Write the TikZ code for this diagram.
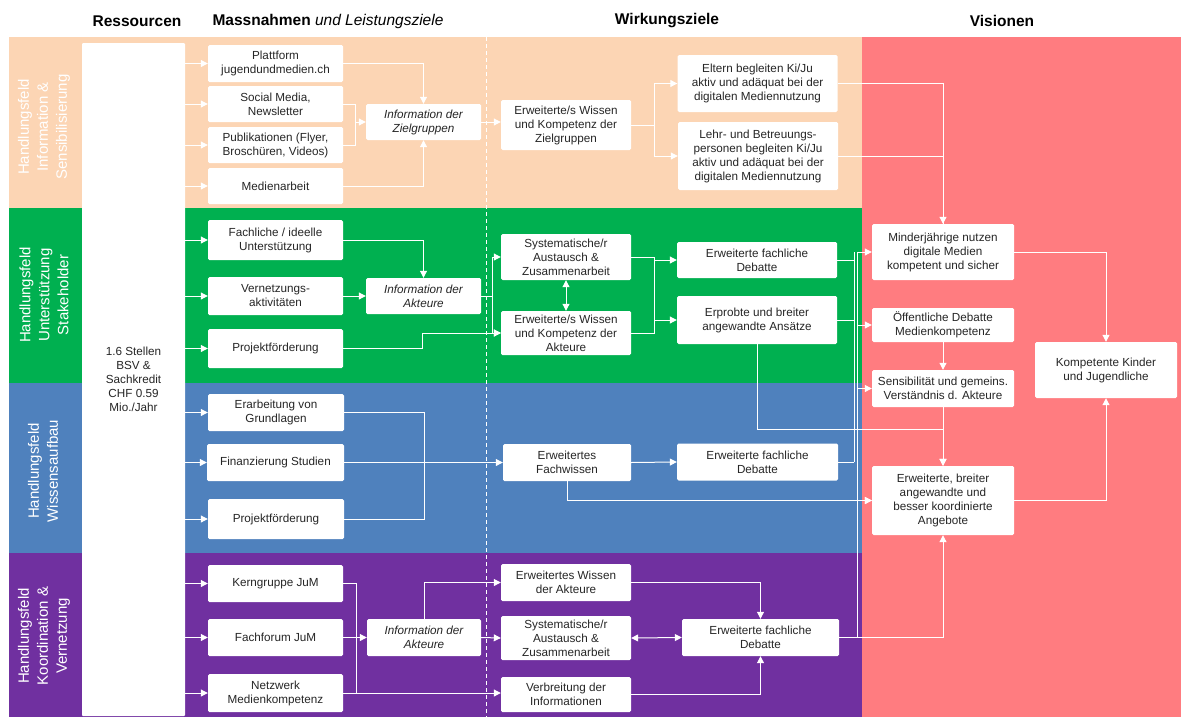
\documentclass[tikz,border=0pt]{standalone}
\usepackage{fontspec}
\setmainfont{Liberation Sans}
\usetikzlibrary{arrows.meta,calc}
\definecolor{cOr}{HTML}{FCD5B4}
\definecolor{cGr}{HTML}{00B050}
\definecolor{cBl}{HTML}{4F81BD}
\definecolor{cPu}{HTML}{7030A0}
\definecolor{cPk}{HTML}{FF7C80}
\definecolor{txt}{HTML}{262626}
\begin{document}
\begin{tikzpicture}[x=1pt,y=-1pt,
 box/.style={fill=white, rounded corners=1.5pt, align=center, text=txt, inner sep=1pt, font=\fontsize{11.7}{14}\selectfont},
 ibox/.style={box, font=\fontsize{11.7}{14}\selectfont\itshape},
 wh/.style 2 args={minimum width=#1pt, minimum height=#2pt},
 conn/.style={draw=white, line width=1pt},
 arr/.style={conn, -{Triangle[width=7pt,length=7pt]}},
 arr2/.style={conn, {Triangle[width=7pt,length=7pt]}-{Triangle[width=7pt,length=7pt]}},
 band/.style={text=white, rotate=90, align=center, font=\fontsize{15}{19}\selectfont},
 hdr/.style={text=black, font=\fontsize{15.5}{18}\selectfont\bfseries}
]
\useasboundingbox (0,0) rectangle (1183,718);
\fill[white] (0,0) rectangle (1183,718);
% bands
\fill[cOr] (9,37) rectangle (862,208);
\fill[cGr] (9,208) rectangle (862,383);
\fill[cBl] (9,383) rectangle (862,553);
\fill[cPu] (9,553) rectangle (862,717);
\fill[cPk] (862,37) rectangle (1181,717);
\draw[white, line width=0.8pt, dash pattern=on 4pt off 3pt] (486,37) -- (486,717);

% headers
\node[hdr] (h1) at (137,21) {Ressourcen};
\node[hdr] (h2) at (328,21) {Massnahmen \textmd{\itshape und Leistungsziele}};
\node[hdr] (h3) at (667,21) {Wirkungsziele};
\node[hdr] (h4) at (1002,21) {Visionen};

% band labels
\node[band] (l1) at (44,127) {Handlungsfeld\\Information \&\\Sensibilisierung};
\node[band] (l2) at (44,295) {Handlungsfeld\\Unterstützung\\Stakeholder};
\node[band] (l3) at (43,471) {Handlungsfeld\\Wissensaufbau};
\node[band] (l4) at (44,636) {Handlungsfeld\\Koordination \&\\Vernetzung};

% resources
\node[box, wh={103}{673}, rounded corners=1pt] (res) at (133.5,379.5) {1.6 Stellen\\BSV \&\\Sachkredit\\CHF 0.59\\Mio./Jahr};

% orange band
\node[box, wh={135}{37}] (p1) at (275.5,63.5) {Plattform\\jugendundmedien.ch};
\node[box, wh={135}{36}] (p2) at (275.5,104) {Social Media,\\Newsletter};
\node[box, wh={135}{36}] (p3) at (275.5,145) {Publikationen (Flyer,\\Broschüren, Videos)};
\node[box, wh={135}{36}] (p4) at (275.5,186) {Medienarbeit};
\node[ibox, wh={115}{36}] (iz) at (423.5,122) {Information der\\Zielgruppen};
\node[box, wh={130}{50}] (wz) at (566,125) {Erweiterte/s Wissen\\und Kompetenz der\\Zielgruppen};
\node[box, wh={160}{57}] (el) at (757.5,83.5) {Eltern begleiten Ki/Ju\\aktiv und adäquat bei der\\digitalen Mediennutzung};
\node[box, wh={160}{68}] (lb) at (758,156) {Lehr- und Betreuungs-\\personen begleiten Ki/Ju\\aktiv und adäquat bei der\\digitalen Mediennutzung};

% green band
\node[box, wh={135}{40}] (g1) at (275.5,240) {Fachliche / ideelle\\Unterstützung};
\node[box, wh={135}{38}] (g2) at (275.5,296) {Vernetzungs-\\aktivitäten};
\node[box, wh={135}{39}] (g3) at (275.5,348.5) {Projektförderung};
\node[ibox, wh={115}{36}] (ia) at (423.5,296) {Information der\\Akteure};
\node[box, wh={130}{46}] (sa) at (566,257) {Systematische/r\\Austausch \&\\Zusammenarbeit};
\node[box, wh={130}{44}] (wa) at (566,333) {Erweiterte/s Wissen\\und Kompetenz der\\Akteure};
\node[box, wh={160}{36}] (gd) at (757,260) {Erweiterte fachliche\\Debatte};
\node[box, wh={160}{48}] (ep) at (757,320) {Erprobte und breiter\\angewandte Ansätze};

% visions
\node[box, wh={142}{56}] (md) at (943,252) {Minderjährige nutzen\\digitale Medien\\kompetent und sicher};
\node[box, wh={142}{34}] (od) at (943,325) {Öffentliche Debatte\\Medienkompetenz};
\node[box, wh={142}{37}] (se) at (943,388.5) {Sensibilität und gemeins.\\Verständnis d. Akteure};
\node[box, wh={142}{56}] (kk) at (1106,370) {Kompetente Kinder\\und Jugendliche};
\node[box, wh={142}{69}] (an) at (943,500.5) {Erweiterte, breiter\\angewandte und\\besser koordinierte\\Angebote};

% blue band
\node[box, wh={136}{37}] (b1) at (276,412.5) {Erarbeitung von\\Grundlagen};
\node[box, wh={137}{37}] (b2) at (275.5,462.5) {Finanzierung Studien};
\node[box, wh={136}{40}] (b3) at (276,519) {Projektförderung};
\node[box, wh={128}{37}] (fw) at (567,462.5) {Erweitertes\\Fachwissen};
\node[box, wh={161}{37}] (bd) at (757.5,462) {Erweiterte fachliche\\Debatte};

% purple band
\node[box, wh={135}{37}] (k1) at (275.5,583.5) {Kerngruppe JuM};
\node[box, wh={135}{37}] (k2) at (275.5,637.5) {Fachforum JuM};
\node[box, wh={135}{38}] (k3) at (275.5,693) {Netzwerk\\Medienkompetenz};
\node[ibox, wh={114}{37}] (ip) at (424,637.5) {Information der\\Akteure};
\node[box, wh={130}{37}] (ew) at (566,582.5) {Erweitertes Wissen\\der Akteure};
\node[box, wh={130}{44}] (sp) at (566,638) {Systematische/r\\Austausch \&\\Zusammenarbeit};
\node[box, wh={130}{35}] (vi) at (566,694.5) {Verbreitung der\\Informationen};
\node[box, wh={157}{37}] (pd) at (760.5,637.5) {Erweiterte fachliche\\Debatte};

% junction columns
\coordinate (jz) at (355,0);
\coordinate (jw) at (654,0);
\coordinate (jg) at (422,0);
\coordinate (ji) at (492,0);
\coordinate (js) at (654,0);
\coordinate (jb) at (424,0);
\coordinate (jp) at (356,0);
\coordinate (bA) at (854,0);
\coordinate (bB) at (857,0);
\coordinate (je) at (943,429);

% resource arrows
\foreach \n in {p1,p2,p3,p4,g1,g2,g3,b1,b2,b3,k1,k2,k3}
  \draw[arr] (res.east |- \n.west) -- (\n.west);

% orange connectors
\draw[arr] (p1.east) -| (iz.north);
\draw[arr] (p2.east) -| (jz |- iz.west) -- (iz.west);
\draw[conn] (p3.east) -| (jz |- iz.west);
\draw[arr] (p4.east) -| (iz.south);
\draw[arr] (iz.east) -- (iz.east -| wz.west);
\draw[conn] (wz.east) -- (jw |- wz.east);
\draw[arr] (jw |- wz.east) |- (el.west);
\draw[arr] (jw |- wz.east) |- (lb.west);
\draw[arr] (el.east) -| (md.north);
\draw[conn] (lb.east) -| (md.north);

% green connectors
\draw[arr] (g1.east) -| (ia.north);
\draw[arr] (g2.east) -- (ia.west);
\draw[arr] (g3.east) -| (jg |- wa.west) -- (wa.west);
\draw[conn] (ia.east) -- (ji |- ia.east);
\draw[arr] (ji |- ia.east) |- (sa.west);
\draw[arr] (ji |- ia.east) |- (wa.west);
\draw[arr2] (sa.south) -- (wa.north);
\draw[conn] (sa.east) -- (js |- sa.east) -- (js |- wa.east) -- (wa.east);
\draw[arr] (js |- gd.west) -- (gd.west);
\draw[arr] (js |- ep.west) -- (ep.west);

% blue connectors
\draw[conn] (b1.east) -| (jb |- b3.east) -- (b3.east);
\draw[arr] (b2.east) -- (fw.west);
\draw[arr] (fw.east) -- (bd.west);
\draw[arr] (fw.south) |- (an.west);

% purple connectors
\draw[conn] (k1.east) -| (jp |- k3.east) -- (k3.east);
\draw[arr] (k2.east) -- (ip.west);
\draw[arr] (k3.east) -- (k3.east -| vi.west);
\draw[arr] (ip.north) |- (ew.west);
\draw[arr] (ip.east) -- (sp.west);
\draw[arr] (ew.east) -| (pd.north);
\draw[arr2] (sp.east) -- (pd.west);
\draw[arr] (vi.east) -| (pd.south);

% bus to visions
\draw[conn] (gd.east) -- (gd.east -| bA);
\draw[conn] (ep.east) -- (ep.east -| bA);
\draw[conn] (bd.east) -- (bd.east -| bA);
\draw[conn] (bA |- md.west) -- (bA |- bd.east);
\draw[conn] (pd.east) -- (pd.east -| bB);
\draw[conn] (bB |- md.west) -- (bB |- pd.east);
\draw[arr] (pd.east) -| (an.south);
\draw[arr] (bB |- md.west) -- (md.west);
\draw[arr] (bB |- od.west) -- (od.west);
\draw[arr] (bB |- se.west) -- (se.west);
\draw[arr] (bB |- an.west) -- (an.west);

% visions internal
\draw[arr] (od.south) -- (se.north);
\draw[arr] (se.south) -- (an.north);
\draw[arr] (ep.south) |- (je) -- (an.north);
\draw[arr] (md.east) -| (kk.north);
\draw[arr] (an.east) -| (kk.south);
\end{tikzpicture}
\end{document}
